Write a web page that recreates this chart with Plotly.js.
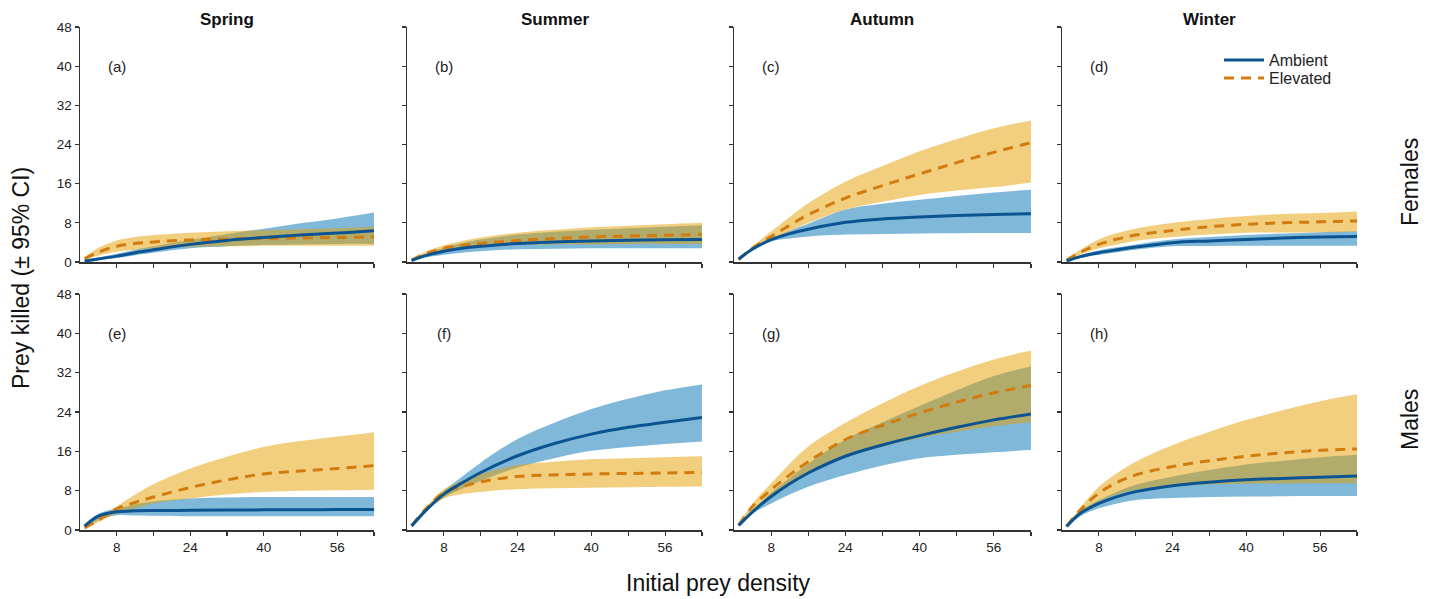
<!DOCTYPE html>
<html>
<head>
<meta charset="utf-8">
<script src="https://cdn.plot.ly/plotly-3.0.1.min.js"></script>
<style>html,body{margin:0;padding:0;background:#fff;}#chart{width:1433px;height:599px;}</style>
</head>
<body>
<div id="chart"></div>
<script>
// ---- DATA ----
const seasons = ['Spring', 'Summer', 'Autumn', 'Winter'];
const sexes = ['Females', 'Males'];
const panelLetters = ['(a)', '(b)', '(c)', '(d)', '(e)', '(f)', '(g)', '(h)'];
const xTickVals = [8, 16, 24, 32, 40, 48, 56, 64];
const xTickText = ['8', '', '24', '', '40', '', '56', ''];
const yTickVals = [0, 8, 16, 24, 32, 40, 48];

const density = [1, 4, 8, 12, 16, 24, 32, 40, 48, 56, 64];

// (a) Spring, Females
const a_ambMean = [0.2, 0.6, 1.2, 1.9, 2.5, 3.6, 4.4, 5.0, 5.5, 5.9, 6.4];
const a_ambLo   = [0.1, 0.4, 0.8, 1.4, 1.9, 2.8, 3.2, 3.5, 3.6, 3.7, 3.7];
const a_ambHi   = [0.3, 0.9, 1.7, 2.5, 3.2, 4.5, 5.7, 6.8, 7.9, 8.9, 10.1];
const a_elvMean = [0.7, 2.0, 3.2, 3.8, 4.1, 4.5, 4.7, 4.8, 4.9, 5.0, 5.1];
const a_elvLo   = [0.5, 1.3, 2.1, 2.5, 2.8, 3.1, 3.2, 3.3, 3.3, 3.3, 3.3];
const a_elvHi   = [0.9, 2.9, 4.4, 5.1, 5.5, 6.0, 6.3, 6.5, 6.7, 6.9, 7.2];
// (b) Summer, Females
const b_ambMean = [0.3, 1.3, 2.2, 2.8, 3.2, 3.8, 4.1, 4.3, 4.45, 4.55, 4.6];
const b_ambLo   = [0.2, 0.9, 1.5, 1.9, 2.2, 2.6, 2.7, 2.8, 2.8, 2.8, 2.8];
const b_ambHi   = [0.4, 1.6, 2.9, 3.9, 4.6, 5.6, 6.2, 6.6, 6.9, 7.2, 7.5];
const b_elvMean = [0.4, 1.7, 2.8, 3.4, 3.8, 4.4, 4.8, 5.1, 5.3, 5.45, 5.65];
const b_elvLo   = [0.3, 1.3, 2.2, 2.7, 3.0, 3.5, 3.6, 3.6, 3.7, 3.7, 3.7];
const b_elvHi   = [0.5, 2.1, 3.4, 4.3, 5.0, 6.0, 6.6, 7.1, 7.4, 7.7, 8.0];
// (c) Autumn, Females
const c_ambMean = [0.6, 2.65, 4.55, 5.8, 6.7, 8.1, 8.8, 9.2, 9.5, 9.7, 9.85];
const c_ambLo   = [0.5, 2.3, 4.2, 4.8, 5.2, 5.6, 5.7, 5.8, 5.85, 5.9, 5.9];
const c_ambHi   = [0.7, 2.9, 4.9, 6.4, 7.8, 10.7, 11.9, 12.7, 13.5, 14.2, 14.75];
const c_elvMean = [0.5, 2.85, 5.2, 7.5, 9.65, 13.05, 15.6, 18.0, 20.3, 22.4, 24.4];
const c_elvLo   = [0.4, 2.5, 4.55, 6.3, 7.95, 10.7, 12.3, 13.7, 14.6, 15.3, 16.25];
const c_elvHi   = [0.6, 3.2, 6.25, 9.2, 12.0, 16.4, 19.6, 22.6, 25.1, 27.3, 28.9];
// (d) Winter, Females
const d_ambMean = [0.2, 1.1, 1.9, 2.5, 3.05, 3.95, 4.3, 4.6, 4.9, 5.1, 5.2];
const d_ambLo   = [0.1, 0.8, 1.5, 2.0, 2.5, 3.2, 3.25, 3.3, 3.3, 3.3, 3.3];
const d_ambHi   = [0.3, 1.4, 2.4, 3.0, 3.6, 4.6, 5.1, 5.5, 5.8, 6.1, 6.3];
const d_elvMean = [0.4, 2.0, 3.6, 4.7, 5.5, 6.45, 7.2, 7.7, 8.0, 8.2, 8.4];
const d_elvLo   = [0.3, 1.5, 2.8, 3.6, 4.3, 5.1, 5.6, 6.0, 6.05, 6.1, 6.2];
const d_elvHi   = [0.5, 2.5, 4.6, 5.9, 6.8, 8.0, 8.8, 9.4, 9.8, 10.0, 10.3];
// (e) Spring, Males
const e_ambMean = [0.8, 2.8, 3.7, 3.9, 3.95, 4.0, 4.05, 4.1, 4.1, 4.15, 4.15];
const e_ambLo   = [0.6, 2.0, 3.0, 2.95, 2.9, 2.8, 2.8, 2.8, 2.8, 2.8, 2.8];
const e_ambHi   = [1.0, 3.3, 4.35, 5.2, 5.8, 6.4, 6.6, 6.7, 6.7, 6.7, 6.7];
const e_elvMean = [0.4, 2.0, 4.35, 5.6, 6.7, 8.65, 10.2, 11.4, 12.0, 12.5, 13.1];
const e_elvLo   = [0.3, 1.6, 3.3, 4.4, 5.4, 6.4, 7.2, 7.75, 8.0, 8.1, 8.2];
const e_elvHi   = [0.5, 2.4, 4.8, 7.2, 9.3, 12.5, 14.9, 16.9, 18.1, 19.0, 19.9];
// (f) Summer, Males
const f_ambMean = [0.8, 3.9, 7.3, 9.6, 11.7, 15.1, 17.6, 19.5, 20.9, 21.9, 22.9];
const f_ambLo   = [0.7, 3.6, 6.6, 8.4, 10.0, 12.7, 14.6, 16.1, 16.9, 17.5, 18.0];
const f_ambHi   = [0.9, 4.2, 8.0, 10.9, 13.7, 18.5, 21.8, 24.6, 26.7, 28.4, 29.6];
const f_elvMean = [0.9, 4.2, 7.6, 8.8, 9.8, 10.9, 11.2, 11.4, 11.5, 11.6, 11.7];
const f_elvLo   = [0.8, 3.8, 6.4, 7.3, 7.75, 8.3, 8.5, 8.6, 8.7, 8.8, 8.85];
const f_elvHi   = [1.0, 4.6, 8.3, 10.0, 11.4, 13.2, 13.9, 14.4, 14.6, 14.8, 15.0];
// (g) Autumn, Males
const g_ambMean = [0.9, 3.7, 6.8, 9.4, 11.6, 15.0, 17.3, 19.2, 20.9, 22.4, 23.6];
const g_ambLo   = [0.8, 3.3, 5.4, 7.2, 8.8, 11.2, 13.1, 14.6, 15.3, 15.8, 16.3];
const g_ambHi   = [1.0, 4.0, 7.6, 10.6, 13.5, 18.4, 21.9, 25.2, 28.4, 31.3, 33.3];
const g_elvMean = [1.0, 4.8, 8.2, 11.2, 13.9, 18.4, 21.3, 23.8, 26.0, 27.9, 29.4];
const g_elvLo   = [0.9, 4.0, 6.5, 9.2, 11.6, 15.0, 17.0, 18.7, 20.0, 21.1, 21.9];
const g_elvHi   = [1.1, 5.4, 9.5, 13.5, 17.0, 21.8, 25.8, 29.3, 32.2, 34.7, 36.5];
// (h) Winter, Males
const h_ambMean = [0.7, 3.4, 5.4, 6.8, 7.8, 9.0, 9.7, 10.2, 10.5, 10.75, 11.0];
const h_ambLo   = [0.6, 2.8, 4.4, 5.4, 6.1, 6.5, 6.7, 6.8, 6.85, 6.9, 6.9];
const h_ambHi   = [0.8, 3.9, 6.1, 7.8, 9.2, 10.9, 12.2, 13.3, 14.1, 14.8, 15.3];
const h_elvMean = [0.8, 4.1, 7.5, 9.7, 11.2, 12.9, 14.1, 15.0, 15.7, 16.2, 16.5];
const h_elvLo   = [0.7, 3.6, 5.8, 7.2, 8.2, 9.0, 9.25, 9.4, 9.45, 9.5, 9.5];
const h_elvHi   = [0.9, 4.6, 8.8, 11.6, 13.9, 17.3, 20.0, 22.4, 24.4, 26.2, 27.6];

// ---- BUILD ----
const panels = [
  [a_ambMean, a_ambLo, a_ambHi, a_elvMean, a_elvLo, a_elvHi],
  [b_ambMean, b_ambLo, b_ambHi, b_elvMean, b_elvLo, b_elvHi],
  [c_ambMean, c_ambLo, c_ambHi, c_elvMean, c_elvLo, c_elvHi],
  [d_ambMean, d_ambLo, d_ambHi, d_elvMean, d_elvLo, d_elvHi],
  [e_ambMean, e_ambLo, e_ambHi, e_elvMean, e_elvLo, e_elvHi],
  [f_ambMean, f_ambLo, f_ambHi, f_elvMean, f_elvLo, f_elvHi],
  [g_ambMean, g_ambLo, g_ambHi, g_elvMean, g_elvLo, g_elvHi],
  [h_ambMean, h_ambLo, h_ambHi, h_elvMean, h_elvLo, h_elvHi]
];

const W = 1433, H = 599;
const colPx = [[80, 374], [407, 702], [734, 1031], [1062, 1357]];
const rowPx = [[27, 262], [294, 530]];

const FONT = 'Arial, "Liberation Sans", sans-serif';
const blueLine = '#0b5391';
const blueFill = 'rgba(0,114,178,0.5)';
const orangeLine = '#d27c0f';
const orangeFill = 'rgba(230,159,0,0.5)';
const axisColor = '#333333';

const legendCommon = {
  xanchor: 'left', yanchor: 'top', bgcolor: 'rgba(0,0,0,0)',
  font: {family: FONT, size: 16, color: '#222'}, traceorder: 'normal', itemwidth: 40
};

const traces = [];
const layout = {
  width: W, height: H,
  margin: {l: 0, r: 0, t: 0, b: 0},
  paper_bgcolor: '#ffffff', plot_bgcolor: 'rgba(0,0,0,0)',
  font: {family: FONT, color: '#222222', size: 13},
  showlegend: true,
  legend: Object.assign({x: 1219 / W, y: 1 - 43 / H}, legendCommon),
  legend2: Object.assign({x: 1219 / W, y: 1 - 61 / H}, legendCommon),
  annotations: []
};

panels.forEach((p, i) => {
  const r = Math.floor(i / 4), c = i % 4;
  const sfx = i === 0 ? '' : String(i + 1);
  const xa = 'x' + sfx, ya = 'y' + sfx;
  const [ambMean, ambLo, ambHi, elvMean, elvLo, elvHi] = p;
  const base = {x: density, xaxis: xa, yaxis: ya, mode: 'lines', hoverinfo: 'skip', showlegend: false};
  traces.push(Object.assign({}, base, {y: ambLo, line: {width: 0, color: blueFill, shape: 'spline'}}));
  traces.push(Object.assign({}, base, {y: ambHi, line: {width: 0, color: blueFill, shape: 'spline'}, fill: 'tonexty', fillcolor: blueFill}));
  traces.push(Object.assign({}, base, {y: elvLo, line: {width: 0, color: orangeFill, shape: 'spline'}}));
  traces.push(Object.assign({}, base, {y: elvHi, line: {width: 0, color: orangeFill, shape: 'spline'}, fill: 'tonexty', fillcolor: orangeFill}));
  traces.push(Object.assign({}, base, {y: elvMean, name: 'Elevated', legend: 'legend2', showlegend: i === 0,
    line: {width: 3, color: orangeLine, dash: '10px,7px', shape: 'spline'}}));
  traces.push(Object.assign({}, base, {y: ambMean, name: 'Ambient', legend: 'legend', showlegend: i === 0,
    line: {width: 3, color: blueLine, shape: 'spline'}}));

  layout['xaxis' + sfx] = {
    domain: [colPx[c][0] / W, colPx[c][1] / W], anchor: ya,
    range: [0, 64], tickmode: 'array', tickvals: xTickVals, ticktext: xTickText,
    showticklabels: r === 1, ticks: 'outside', ticklen: 4, tickwidth: 1.2, tickcolor: axisColor,
    showline: true, linecolor: axisColor, linewidth: 1.5, showgrid: false, zeroline: false,
    tickfont: {family: FONT, size: 13.5, color: '#222'}, fixedrange: true
  };
  layout['yaxis' + sfx] = {
    domain: [1 - rowPx[r][1] / H, 1 - rowPx[r][0] / H], anchor: xa,
    range: [0, 48], tickmode: 'array', tickvals: yTickVals,
    showticklabels: c === 0, ticks: 'outside', ticklen: 4, tickwidth: 1.2, tickcolor: axisColor,
    showline: true, linecolor: axisColor, linewidth: 1.5, showgrid: false, zeroline: false,
    tickfont: {family: FONT, size: 13.5, color: '#222'}, fixedrange: true
  };
  layout.annotations.push({
    xref: xa, yref: ya, x: 8, y: 40, text: panelLetters[i], showarrow: false,
    xanchor: 'center', yanchor: 'middle',
    font: {family: FONT, size: 15, color: '#222'}
  });
});

// Column titles
seasons.forEach((s, c) => {
  layout.annotations.push({
    xref: 'paper', yref: 'paper', x: (colPx[c][0] + colPx[c][1]) / 2 / W, y: 1 - 20 / H,
    xanchor: 'center', yanchor: 'middle',
    text: '<b>' + s + '</b>', showarrow: false, font: {family: FONT, size: 17, color: '#111'}
  });
});
// Row labels
[182, 420].forEach((yc, r) => {
  layout.annotations.push({
    xref: 'paper', yref: 'paper', x: 1410 / W, y: 1 - yc / H, textangle: -90,
    xanchor: 'center', yanchor: 'middle',
    text: sexes[r], showarrow: false, font: {family: FONT, size: 23, color: '#111'}
  });
});
// Axis titles
layout.annotations.push({
  xref: 'paper', yref: 'paper', x: 21 / W, y: 1 - 278 / H, textangle: -90,
  xanchor: 'center', yanchor: 'middle',
  text: 'Prey killed (± 95% CI)', showarrow: false, font: {family: FONT, size: 23, color: '#111'}
});
layout.annotations.push({
  xref: 'paper', yref: 'paper', x: 718 / W, y: 1 - 583 / H,
  xanchor: 'center', yanchor: 'middle',
  text: 'Initial prey density', showarrow: false, font: {family: FONT, size: 23, color: '#111'}
});

Plotly.newPlot('chart', traces, layout, {staticPlot: true, displayModeBar: false});
</script>
</body>
</html>
